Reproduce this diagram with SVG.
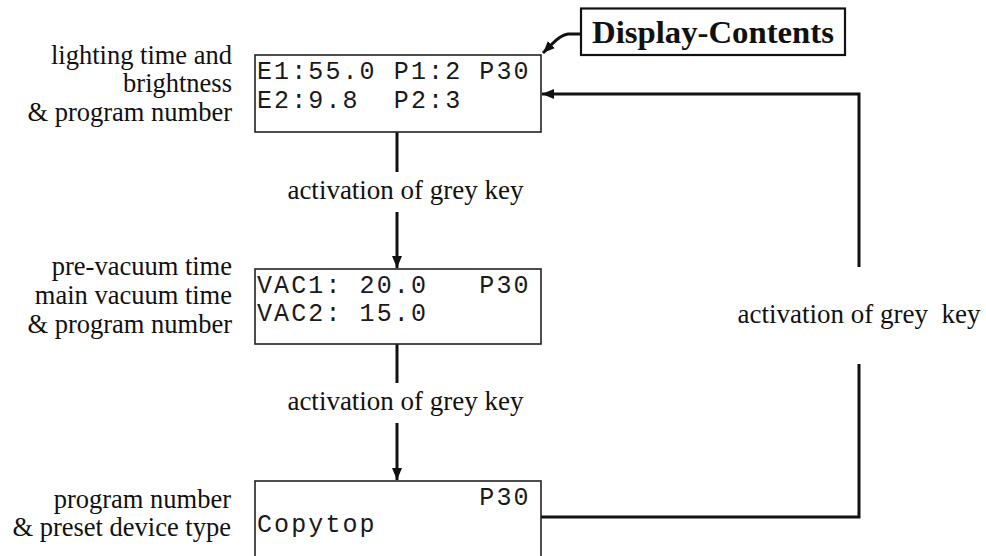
<svg xmlns="http://www.w3.org/2000/svg" width="986" height="556" viewBox="0 0 986 556">
<defs>
<style>
.lbl{font-family:"Liberation Serif","Times New Roman",serif;font-size:26.5px;fill:#111;text-anchor:end}
.key{font-family:"Liberation Serif","Times New Roman",serif;font-size:27px;fill:#111;text-anchor:middle;white-space:pre}
.mono{font-family:"Liberation Mono","Courier New",monospace;font-size:25px;letter-spacing:2.1px;fill:#1a1a1a;white-space:pre}
.box{fill:#fff;stroke:#222;stroke-width:1.6}
.conn{fill:none;stroke:#111;stroke-width:3}
.title{font-family:"Liberation Serif","Times New Roman",serif;font-size:31px;font-weight:bold;fill:#111}
</style>
<marker id="ah" viewBox="0 0 12 10" refX="12" refY="5" markerWidth="12" markerHeight="10" markerUnits="userSpaceOnUse" orient="auto">
<path d="M0,0 L12,5 L0,10 Z" fill="#111"/>
</marker>
</defs>
<rect width="986" height="556" fill="#fff"/>

<g id="connectors">
<line class="conn" x1="397" y1="132" x2="397" y2="172"/>
<line class="conn" x1="397" y1="212" x2="397" y2="268" marker-end="url(#ah)"/>
<line class="conn" x1="397" y1="344" x2="397" y2="383"/>
<line class="conn" x1="397" y1="423" x2="397" y2="480" marker-end="url(#ah)"/>
<polyline class="conn" points="541,517 859,517 859,364"/>
<polyline class="conn" points="859,267 859,94 542,94" marker-end="url(#ah)"/>
<path class="conn" d="M581,34 L568,34 Q561,35 552,44 L543,53" marker-end="url(#ah)"/>
<text class="key" x="405.5" y="199">activation of grey key</text>
<text class="key" x="405.5" y="410">activation of grey key</text>
<text class="key" x="859" y="323">activation of grey  key</text>
</g>

<g id="display-contents">
<rect x="581" y="8.5" width="264" height="46.5" fill="#fff" stroke="#111" stroke-width="2.2"/>
<text class="title" x="592" y="43" textLength="242" lengthAdjust="spacingAndGlyphs">Display-Contents</text>
</g>

<g id="node-1">
<text class="lbl"><tspan x="232" y="64">lighting time and</tspan><tspan x="232" y="92">brightness</tspan><tspan x="232" y="121">&amp; program number</tspan></text>
<rect class="box" x="255" y="55" width="286" height="77"/>
<text class="mono"><tspan x="257" y="79">E1:55.0 P1:2 P30</tspan><tspan x="257" y="107.5">E2:9.8  P2:3</tspan></text>
</g>

<g id="node-2">
<text class="lbl"><tspan x="232" y="275">pre-vacuum time</tspan><tspan x="232" y="304">main vacuum time</tspan><tspan x="232" y="333">&amp; program number</tspan></text>
<rect class="box" x="255" y="269" width="286" height="75"/>
<text class="mono"><tspan x="257" y="292.5">VAC1: 20.0   P30</tspan><tspan x="257" y="321">VAC2: 15.0</tspan></text>
</g>

<g id="node-3">
<text class="lbl"><tspan x="231" y="508">program number</tspan><tspan x="231" y="536">&amp; preset device type</tspan></text>
<rect class="box" x="255" y="481" width="286" height="80"/>
<text class="mono"><tspan x="479.3" y="505">P30</tspan><tspan x="257" y="532">Copytop</tspan></text>
</g>
</svg>
